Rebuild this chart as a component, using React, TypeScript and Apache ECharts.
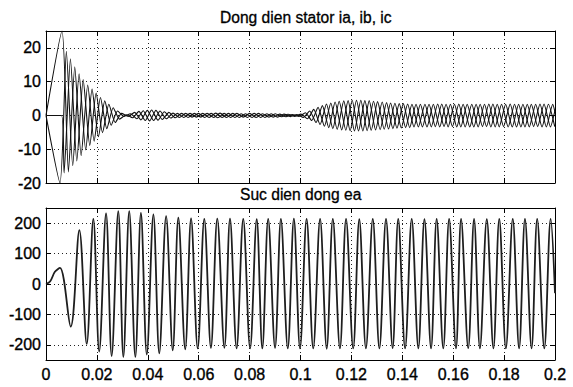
import React, { useEffect, useRef } from "react";
import * as echarts from "echarts";

// ---- Top subplot: stator currents ia, ib, ic (extremes) ----
const iaT = [0, 0.0063, 0.0088, 0.0113, 0.0138, 0.0164, 0.0189, 0.0214, 0.0239, 0.0264, 0.0289,
  0.0315, 0.0340, 0.0365, 0.0390, 0.0415, 0.0440, 0.0465, 0.0491, 0.0516, 0.0541,
  0.0566, 0.0591, 0.0616, 0.0641, 0.0667, 0.0692, 0.0717, 0.0742, 0.0767, 0.0792,
  0.0818, 0.0843, 0.0868, 0.0893, 0.0918, 0.0943, 0.0968, 0.0994, 0.1019, 0.1044,
  0.1069, 0.1094, 0.1119, 0.1144, 0.1170, 0.1195, 0.1220, 0.1245, 0.1270, 0.1295,
  0.1321, 0.1346, 0.1371, 0.1396, 0.1421, 0.1446, 0.1471, 0.1497, 0.1522, 0.1547,
  0.1572, 0.1597, 0.1622, 0.1647, 0.1673, 0.1698, 0.1723, 0.1748, 0.1773, 0.1798,
  0.1824, 0.1849, 0.1874, 0.1899, 0.1924, 0.1949, 0.1974, 0.1999];
const iaV = [0, 25, -16.7, 14.4, -11.9, 9.0, -7.6, 5.3, -3.9, 2.3, -1.1,
  0.2, -0.7, 1.2, -1.5, 1.6, -1.4, 1.1, -0.8, 0.6, -0.6,
  0.6, -0.5, 0.6, -0.6, 0.7, -0.6, 0.6, -0.6, 0.5, -0.6,
  0.6, -0.6, 0.5, -0.5, 0.4, -0.4, 0.3, -0.3, 0.8, -1.5,
  2.4, -3.2, 3.7, -4.1, 4.3, -4.5, 4.5, -4.6, 4.4, -4.3,
  4.0, -4.0, 3.6, -3.7, 3.4, -3.4, 3.3, -3.4, 3.3, -3.4,
  3.3, -3.3, 3.4, -3.4, 3.3, -3.4, 3.3, -3.4, 3.3, -3.3,
  3.4, -3.4, 3.3, -3.4, 3.3, -3.4, 3.3, -3.3];

const ibT = [0, 0.0055, 0.0080, 0.0105, 0.0130, 0.0156, 0.0181, 0.0206, 0.0231, 0.0256, 0.0281,
  0.0307, 0.0332, 0.0357, 0.0382, 0.0407, 0.0432, 0.0457, 0.0483, 0.0508, 0.0533,
  0.0558, 0.0583, 0.0608, 0.0633, 0.0659, 0.0684, 0.0709, 0.0734, 0.0759, 0.0784,
  0.0810, 0.0835, 0.0860, 0.0885, 0.0910, 0.0935, 0.0960, 0.0986, 0.1011, 0.1036,
  0.1061, 0.1086, 0.1111, 0.1136, 0.1162, 0.1187, 0.1212, 0.1237, 0.1262, 0.1287,
  0.1313, 0.1338, 0.1363, 0.1388, 0.1413, 0.1438, 0.1463, 0.1489, 0.1514, 0.1539,
  0.1564, 0.1589, 0.1614, 0.1639, 0.1665, 0.1690, 0.1715, 0.1740, 0.1765, 0.1790,
  0.1816, 0.1841, 0.1866, 0.1891, 0.1916, 0.1941, 0.1966, 0.1991, 0.2];
const ibV = [0, -20, 19.0, -14.9, 12.3, -10.2, 7.8, -6.3, 4.3, -2.9, 1.3,
  -0.3, 0.5, -1.0, 1.4, -1.6, 1.5, -1.2, 0.9, -0.7, 0.6,
  -0.6, 0.6, -0.5, 0.6, -0.6, 0.7, -0.6, 0.6, -0.6, 0.5,
  -0.6, 0.6, -0.6, 0.5, -0.5, 0.4, -0.35, 0.3, -0.6, 1.3,
  -2.1, 2.9, -3.6, 4.0, -4.3, 4.4, -4.6, 4.5, -4.5, 4.2,
  -4.2, 3.8, -3.9, 3.5, -3.6, 3.3, -3.4, 3.3, -3.4, 3.4,
  -3.3, 3.3, -3.4, 3.3, -3.4, 3.3, -3.3, 3.4, -3.4, 3.3,
  -3.4, 3.3, -3.4, 3.3, -3.3, 3.4, -3.4, 3.3, 1.0];

const icT = [0, 0.0061, 0.0071, 0.0096, 0.0121, 0.0146, 0.0172, 0.0197, 0.0222, 0.0247, 0.0272,
  0.0297, 0.0323, 0.0348, 0.0373, 0.0398, 0.0423, 0.0448, 0.0473, 0.0499, 0.0524,
  0.0549, 0.0574, 0.0599, 0.0624, 0.0649, 0.0675, 0.0700, 0.0725, 0.0750, 0.0775,
  0.0800, 0.0826, 0.0851, 0.0876, 0.0901, 0.0926, 0.0951, 0.0976, 0.1002, 0.1027,
  0.1052, 0.1077, 0.1102, 0.1127, 0.1152, 0.1178, 0.1203, 0.1228, 0.1253, 0.1278,
  0.1303, 0.1329, 0.1354, 0.1379, 0.1404, 0.1429, 0.1454, 0.1479, 0.1505, 0.1530,
  0.1555, 0.1580, 0.1605, 0.1630, 0.1655, 0.1681, 0.1706, 0.1731, 0.1756, 0.1781,
  0.1806, 0.1832, 0.1857, 0.1882, 0.1907, 0.1932, 0.1957, 0.1982, 0.2];
const icV = [0, 0, -17.0, 16.8, -13.5, 10.6, -8.9, 6.6, -5.1, 3.3, -2.1,
  0.6, -0.3, 0.9, -1.3, 1.5, -1.5, 1.3, -1.0, 0.7, -0.6,
  0.6, -0.5, 0.6, -0.6, 0.6, -0.7, 0.6, -0.6, 0.6, -0.5,
  0.6, -0.6, 0.5, -0.5, 0.5, -0.4, 0.35, -0.3, 0.4, -1.0,
  1.8, -2.7, 3.4, -3.9, 4.2, -4.4, 4.5, -4.6, 4.4, -4.4,
  4.1, -4.1, 3.7, -3.8, 3.5, -3.6, 3.3, -3.4, 3.3, -3.3,
  3.4, -3.4, 3.3, -3.4, 3.3, -3.4, 3.3, -3.3, 3.4, -3.4,
  3.3, -3.4, 3.3, -3.4, 3.3, -3.3, 3.4, -3.4, 1.5];

// ---- Bottom subplot: EMF ea (extremes) ----
const eaT = [0, 0.0016, 0.0035, 0.0055, 0.0097, 0.0131, 0.0160, 0.0186, 0.0209, 0.0236,
  0.0258, 0.0284, 0.0304, 0.0327, 0.0351, 0.0373, 0.0396, 0.0422, 0.0445, 0.0472,
  0.0498, 0.0520, 0.0547, 0.0570, 0.0596, 0.0622, 0.0648, 0.0673, 0.0701, 0.0723,
  0.0749, 0.0775, 0.0802, 0.0828, 0.0850, 0.0873, 0.0900, 0.0923, 0.0950, 0.0974,
  0.0998, 0.1024, 0.1050, 0.1077, 0.1103, 0.1127, 0.1155, 0.1179, 0.1207, 0.1231,
  0.1257, 0.1284, 0.1310, 0.1336, 0.1362, 0.1384, 0.1411, 0.1437, 0.1463, 0.1487,
  0.1513, 0.1535, 0.1561, 0.1584, 0.1611, 0.1631, 0.1659, 0.1682, 0.1705, 0.1732,
  0.1758, 0.1781, 0.1807, 0.1834, 0.1859, 0.1882, 0.1908, 0.1930, 0.1958, 0.1983, 0.2];
const eaV = [0, 8, 40, 53, -140, 177, -197, 214, -222, 232,
  -237, 240, -240, 240, -240, 234, -232, 229, -228, 223,
  -218, 218, -215, 216, -212, 214, -210, 215, -210, 215,
  -212, 214, -212, 213, -212, 214, -210, 214, -212, 215,
  -212, 214, -212, 214, -213, 214, -212, 214, -212, 213,
  -212, 214, -212, 214, -211, 214, -212, 214, -212, 213,
  -212, 214, -212, 214, -212, 214, -211, 214, -212, 213,
  -212, 214, -212, 214, -212, 214, -212, 214, -212, 214, -30];

const topTitle = "Dong dien stator ia, ib, ic";
const bottomTitle = "Suc dien dong ea";
const xMin = 0, xMax = 0.2, xStep = 0.02;
const topYMin = -20, topYMax = 25, topYStep = 10;
const botYMin = -250, botYMax = 250;
const botYTicks = [-200, -100, 0, 100, 200];

const FONT = "'Liberation Sans', Arial, Helvetica, sans-serif";

const zip = (t: number[], v: number[]) => t.map((x, i) => [x, v[i]]);

export default function App() {
  const ref = useRef<HTMLDivElement>(null);
  useEffect(() => {
    const chart = echarts.init(ref.current!, null, { renderer: "svg" });
    const axisLine = { show: true, onZero: false, lineStyle: { color: "#000", width: 1 } };
    const tick = { show: true, inside: true, length: 5, lineStyle: { color: "#000", width: 1 } };
    const split = { show: true, lineStyle: { color: "#222", width: 1, type: [1, 3] as any } };
    const label = { color: "#000", fontSize: 16, fontFamily: FONT, textBorderColor: "#000", textBorderWidth: 0.35 };
    const titleStyle = { fontSize: 15.6, fontWeight: "normal", color: "#000", fontFamily: FONT,
      textBorderColor: "#000", textBorderWidth: 0.3 };

    const xAx = (gridIndex: number, position: string, showLabel: boolean, showSplit: boolean) => ({
      type: "value", gridIndex, position, min: xMin, max: xMax, interval: xStep,
      axisLine, axisTick: tick, splitLine: showSplit ? split : { show: false },
      axisLabel: showLabel ? { ...label, margin: 6 } : { show: false },
    });
    const topY = (position: string, showLabel: boolean, showSplit: boolean) => ({
      type: "value", gridIndex: 0, position, min: topYMin, max: topYMax, interval: topYStep,
      axisLine, axisTick: tick, splitLine: showSplit ? split : { show: false },
      axisLabel: showLabel ? { ...label, margin: 5, showMaxLabel: false,
        formatter: (v: number) => (v === topYMax ? "" : String(v)) } : { show: false },
    });
    const botY = (position: string, showLabel: boolean, showSplit: boolean) => ({
      type: "value", gridIndex: 1, position, min: botYMin, max: botYMax,
      axisLine, axisTick: { ...tick, customValues: botYTicks },
      splitLine: showSplit ? split : { show: false },
      axisLabel: showLabel ? { ...label, margin: 5, customValues: botYTicks } : { show: false },
    });

    const line = (data: number[][], xi: number, yi: number, width: number, smooth: number, color: string) => ({
      type: "line", xAxisIndex: xi, yAxisIndex: yi, data, showSymbol: false, symbol: "none",
      smooth, clip: true, lineStyle: { color, width }, silent: true,
    });

    chart.setOption({
      animation: false,
      backgroundColor: "#fff",
      title: [
        { text: topTitle, left: 220, top: 9, padding: 0, textStyle: titleStyle },
        { text: bottomTitle, left: 240, top: 186, padding: 0, textStyle: titleStyle },
      ],
      grid: [
        { left: 46, top: 31, width: 509, height: 152, containLabel: false },
        { left: 46, top: 208, width: 509, height: 152, containLabel: false },
      ],
      xAxis: [
        xAx(0, "bottom", false, true),
        xAx(0, "top", false, false),
        xAx(1, "bottom", true, true),
        xAx(1, "top", false, false),
      ],
      yAxis: [
        topY("left", true, true),
        topY("right", false, false),
        botY("left", true, true),
        botY("right", false, false),
      ],
      series: [
        line(zip(iaT, iaV), 0, 0, 1.1, 0.2, "#111"),
        line(zip(ibT, ibV), 0, 0, 1.1, 0.2, "#111"),
        line(zip(icT, icV), 0, 0, 1.1, 0.2, "#111"),
        line(zip(eaT, eaV), 2, 2, 1.8, 0.35, "#1e1e1e"),
      ],
    });
    return () => chart.dispose();
  }, []);
  return (
    <div
      ref={ref}
      style={{ position: "fixed", left: 0, top: 0, width: 573, height: 387, background: "#fff" }}
    />
  );
}
